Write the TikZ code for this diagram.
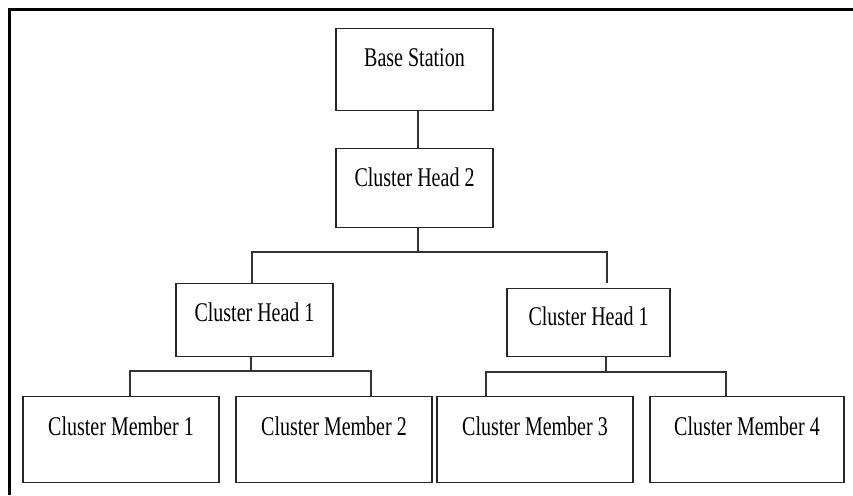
\documentclass[tikz,border=0pt]{standalone}
\usepackage{fontspec}
\usepackage{graphicx}
\usepackage{tikz}
\setmainfont{Liberation Serif}
\newcommand{\tallname}[1]{\scalebox{1}[1.35]{#1}}
\tikzset{
    tree-box/.style = {draw=black!85, line width=1.4pt, rectangle, anchor=north, inner xsep=0pt, inner ysep=0pt, text=black, font=\fontsize{20}{24}\selectfont},
    leaf-box/.style = {tree-box, minimum width=196pt, text height=39pt, text depth=47pt},
    tree-link/.style = {draw=black!80, line width=1.3pt},
    frame-line/.style = {draw=black, line width=3pt, line join=miter},
}

\begin{document}
\begin{tikzpicture}[x=1pt, y=-1pt]
\useasboundingbox (0,0) rectangle (853,495);
\draw[frame-line] (853,9.5) -- (9.5,9.5) -- (9.5,495);

\node[tree-box, minimum width=157pt, text height=38pt, text depth=44pt] (bs) at (414.5,28) {\tallname{Base Station}};
\node[tree-box, minimum width=157pt, text height=38pt, text depth=41pt] (ch2) at (414.5,148) {\tallname{Cluster Head 2}};
\node[tree-box, minimum width=157pt, text height=38pt, text depth=35pt] (ch1l) at (254.5,283) {\tallname{Cluster Head 1}};
\node[tree-box, minimum width=163pt, text height=37pt, text depth=31pt] (ch1r) at (588.5,288) {\tallname{Cluster Head 1}};
\node[leaf-box] (cm1) at (121,396) {\tallname{Cluster Member 1}};
\node[leaf-box] (cm2) at (334,396) {\tallname{Cluster Member 2}};
\node[leaf-box] (cm3) at (535,396) {\tallname{Cluster Member 3}};
\node[leaf-box, minimum width=194pt] (cm4) at (747,396) {\tallname{Cluster Member 4}};

\coordinate (j2) at (418,252);
\coordinate (jl) at (251,371);
\coordinate (jr) at (606,372);
\draw[tree-link] (bs.south -| j2) -- (ch2.north -| j2);
\draw[tree-link] (ch2.south -| j2) -- (j2);
\draw[tree-link] ([xshift=-2.5pt]ch1l.north) |- (j2) -| ([xshift=18.5pt,yshift=5pt]ch1r.north);
\draw[tree-link] (ch1l.south -| jl) -- (jl);
\draw[tree-link] ([xshift=9pt]cm1.north) |- (jl) -| ([xshift=37pt]cm2.north);
\draw[tree-link] (ch1r.south -| jr) -- (jr);
\draw[tree-link] ([xshift=-49pt]cm3.north) |- (jr) -| ([xshift=-21pt]cm4.north);
\end{tikzpicture}
\end{document}
